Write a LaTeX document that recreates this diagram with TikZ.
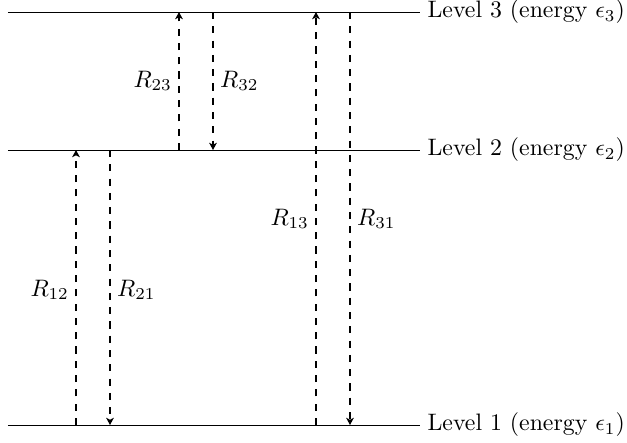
\documentclass[tikz,border=0pt]{standalone}
\usetikzlibrary{arrows.meta}
\begin{document}
\begin{tikzpicture}[x=0.42pt,y=-0.42pt,
  level/.style={line width=0.4pt},
  trans/.style={thick,dashed,-{Stealth[length=3pt,width=3.2pt,inset=0.8pt]}},
  lab/.style={inner sep=2pt}]
\useasboundingbox (0,0) rectangle (627,442);
% levels
\coordinate (a3) at (8,12);  \coordinate (b3) at (420,12);
\coordinate (a2) at (8,150); \coordinate (b2) at (420,150);
\coordinate (a1) at (8,425); \coordinate (b1) at (420,425);
\draw[level] (a3) -- (b3);
\draw[level] (a2) -- (b2);
\draw[level] (a1) -- (b1);
\node[anchor=west,inner sep=3pt] (L3) at (b3) {Level 3 (energy $\epsilon_3$)};
\node[anchor=west,inner sep=3pt] (L2) at (b2) {Level 2 (energy $\epsilon_2$)};
\node[anchor=west,inner sep=3pt] (L1) at (b1) {Level 1 (energy $\epsilon_1$)};
% arrow endpoints
\coordinate (p12s) at (76,425); \coordinate (p12e) at (76,150);
\coordinate (p21s) at (110,150); \coordinate (p21e) at (110,425);
\coordinate (p23s) at (179,150); \coordinate (p23e) at (179,12);
\coordinate (p32s) at (213,12); \coordinate (p32e) at (213,150);
\coordinate (p13s) at (316,425); \coordinate (p13e) at (316,12);
\coordinate (p31s) at (350,12); \coordinate (p31e) at (350,425);
\draw[trans] (p12s) -- (p12e);
\draw[trans] (p21s) -- (p21e);
\draw[trans] (p23s) -- (p23e);
\draw[trans] (p32s) -- (p32e);
\draw[trans] (p13s) -- (p13e);
\draw[trans] (p31s) -- (p31e);
% labels
\node[lab,anchor=east] (R12) at (74,290) {$R_{12}$};
\node[lab,anchor=west] (R21) at (112,290) {$R_{21}$};
\node[lab,anchor=east] (R23) at (177,81) {$R_{23}$};
\node[lab,anchor=west] (R32) at (215,81) {$R_{32}$};
\node[lab,anchor=east] (R13) at (314,219) {$R_{13}$};
\node[lab,anchor=west] (R31) at (352,219) {$R_{31}$};
\end{tikzpicture}
\end{document}
